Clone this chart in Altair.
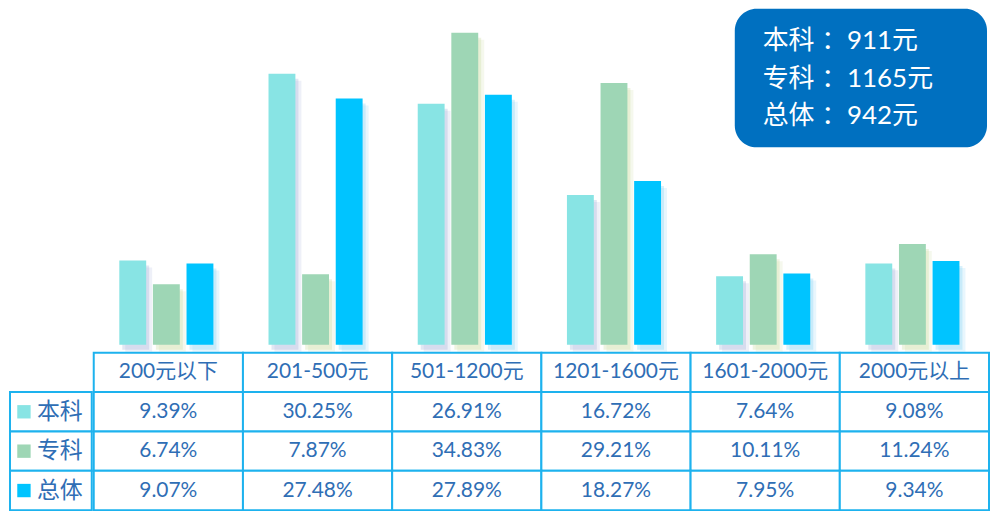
import altair as alt
import pandas as pd

categories = ["200元以下", "201-500元", "501-1200元", "1201-1600元", "1601-2000元", "2000元以上"]
series = ["本科", "专科", "总体"]
benke = [9.39, 30.25, 26.91, 16.72, 7.64, 9.08]
zhuanke = [6.74, 7.87, 34.83, 29.21, 10.11, 11.24]
zongti = [9.07, 27.48, 27.89, 18.27, 7.95, 9.34]
averages = [911, 1165, 942]
colors = ["#88E4E4", "#9ED6B5", "#00C4FF"]
shadow_colors = ["#9FAED8", "#C8DA9A", "#7FCFF5"]

BORDER = "#1DB2EE"
TEXT = "#2F6EB5"
FONT = "Lato, 'Noto Sans CJK SC'"

rows = []
for s, vals in zip(series, [benke, zhuanke, zongti]):
    for c, v in zip(categories, vals):
        rows.append({"category": c, "series": s, "value": v, "text": f"{v:.2f}%"})
df = pd.DataFrame(rows)

header = pd.DataFrame({"category": categories, "series": ["header"] * len(categories),
                       "value": [0] * len(categories), "text": categories})
table_df = pd.concat([header, df], ignore_index=True)

row_domain = ["header"] + series
xscale = alt.Scale(domain=categories, paddingInner=0, paddingOuter=0)
yrow = alt.Scale(domain=row_domain, paddingInner=0, paddingOuter=0)
color = alt.Color("series:N", scale=alt.Scale(domain=series, range=colors), legend=None)
shadow_fill = alt.Fill("series:N", scale=alt.Scale(domain=series, range=shadow_colors), legend=None)

W_LEFT, W_MAIN, H_BARS, H_TABLE = 84, 898, 337, 158
BAND = W_MAIN / len(categories)

xenc = alt.X("category:N", scale=xscale, axis=None, sort=categories)
yenc = alt.Y("value:Q", scale=alt.Scale(domain=[0, 37.5], nice=False), axis=None)


def xoff(shift):
    return alt.XOffset("series:N", scale=alt.Scale(domain=series, paddingInner=0.2,
                                                   paddingOuter=0.82, range=[shift, shift + BAND]))


shadow1 = alt.Chart(df).mark_bar(yOffset=7, y2Offset=-7, opacity=0.18).encode(
    x=xenc, xOffset=xoff(6), y=yenc, fill=shadow_fill)
shadow2 = alt.Chart(df).mark_bar(yOffset=5, y2Offset=-5, opacity=0.3).encode(
    x=xenc, xOffset=xoff(3), y=yenc, fill=shadow_fill)
bars = alt.Chart(df).mark_bar().encode(x=xenc, xOffset=xoff(0), y=yenc, color=color)

box_df = pd.DataFrame({"text": ["\n".join(f"{s} ：{a}元" for s, a in zip(series, averages))]})
box = alt.Chart(box_df).mark_rect(color="#0070C0", cornerRadius=22).encode(
    x=alt.value(W_MAIN - 253), x2=alt.value(W_MAIN), y=alt.value(0), y2=alt.value(139)
)
box_text = alt.Chart(box_df).mark_text(
    color="white", fontSize=26, font=FONT, align="left", baseline="top",
    lineBreak="\n", lineHeight=38
).encode(x=alt.value(W_MAIN - 225), y=alt.value(19), text="text:N")

bars_layer = alt.layer(shadow1, shadow2, bars, box, box_text).resolve_scale(
    xOffset="independent"
).properties(width=W_MAIN, height=H_BARS)

spacer = alt.Chart(pd.DataFrame({"a": [0]})).mark_rect(opacity=0).encode(
    x=alt.value(0), x2=alt.value(1), y=alt.value(0), y2=alt.value(1)
).properties(width=W_LEFT, height=H_BARS)

ytab = alt.Y("series:N", scale=yrow, axis=None, sort=row_domain)
cells = alt.Chart(table_df).mark_rect(fill="white", stroke=BORDER, strokeWidth=2).encode(x=xenc, y=ytab)
cell_text = alt.Chart(table_df).mark_text(color=TEXT, fontSize=21, font=FONT).encode(
    x=xenc, y=ytab, text="text:N")
table = alt.layer(cells, cell_text).properties(width=W_MAIN, height=H_TABLE)

lab_df = pd.DataFrame({"series": series})
lab_cells = alt.Chart(lab_df).mark_rect(fill="white", stroke=BORDER, strokeWidth=2).encode(
    x=alt.value(2), x2=alt.value(W_LEFT), y=ytab)
lab_sq = alt.Chart(lab_df).mark_point(shape="square", filled=True, size=180, opacity=1).encode(
    x=alt.value(16), y=ytab, color=color)
lab_text = alt.Chart(lab_df).mark_text(color=TEXT, fontSize=23, font=FONT).encode(
    x=alt.value(52), y=ytab, text="series:N")
labels = alt.layer(lab_cells, lab_sq, lab_text).properties(width=W_LEFT, height=H_TABLE)

chart = alt.vconcat(
    alt.hconcat(spacer, bars_layer, spacing=0),
    alt.hconcat(labels, table, spacing=0),
    spacing=0,
).properties(padding=0).configure_view(strokeWidth=0).configure_concat(spacing=0)

chart.save("out.html", embed_options={"renderer": "svg", "actions": False})
